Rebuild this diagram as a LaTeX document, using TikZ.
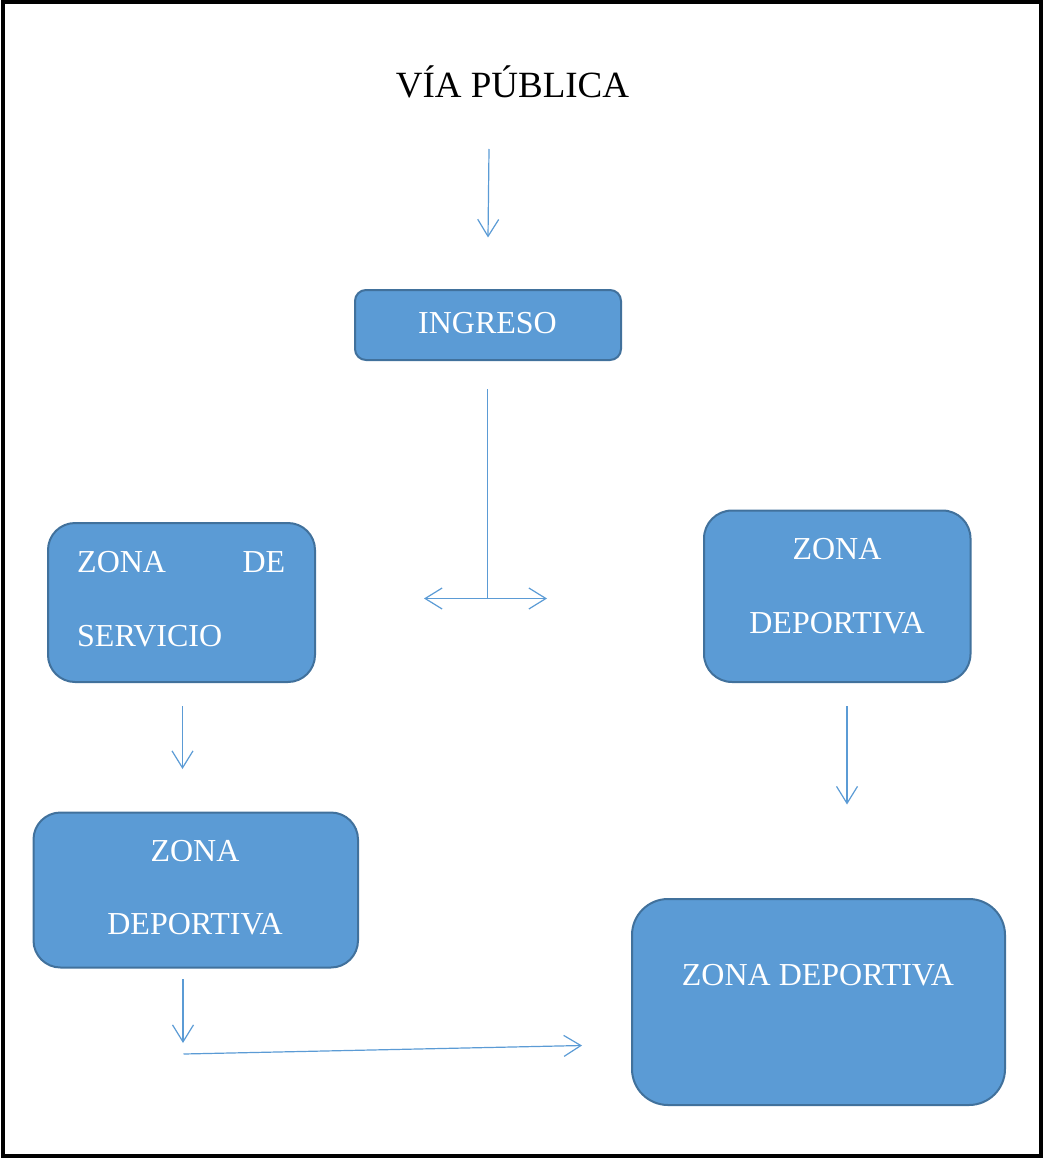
\documentclass[tikz,border=0pt]{standalone}
\usepackage{fontspec}
\setmainfont{Liberation Serif}
\usetikzlibrary{arrows.meta}
\definecolor{boxfill}{HTML}{5B9BD5}
\definecolor{boxline}{HTML}{41719C}
\definecolor{arrowc}{HTML}{5B9BD5}
\begin{document}
\begin{tikzpicture}[x=1pt,y=-1pt,
  zbox/.style={draw=boxline, fill=boxfill, line width=2pt, inner sep=0pt, rounded corners=#1},
  zbox/.default=27pt,
  ztext/.style={text=white, inner sep=0pt, font=\fontsize{32}{38}\selectfont},
  arr/.style={draw=arrowc, line width=1.2pt, -{Straight Barb[length=17pt,width=21pt]}},
  line/.style={draw=arrowc, line width=1.2pt}]
\useasboundingbox (0,0) rectangle (1043,1158);
\draw[line width=4pt] (2.5,2.5) rectangle (1040.5,1155.5);

% title
\node[inner sep=0pt, anchor=base, font=\fontsize{37}{44}\selectfont] (via) at (512.5,98) {VÍA PÚBLICA};

% boxes
\node[zbox=11pt, minimum width=266pt, minimum height=70pt] (ingreso) at (488,325) {};
\node[zbox=27pt, minimum width=267pt, minimum height=159pt] (zds) at (181.5,602.5) {};
\node[zbox=28pt, minimum width=266.5pt, minimum height=171.5pt] (zdr) at (837.25,596.25) {};
\node[zbox=27pt, minimum width=324.5pt, minimum height=155pt] (zdl) at (195.75,890) {};
\node[zbox=36pt, minimum width=373pt, minimum height=206pt] (zdb) at (818.5,1002) {};

% texts
\node[ztext, anchor=base] (tingreso) at (487.5,333) {INGRESO};
\node[ztext, anchor=base west] (tzds1) at (77,572.5) {\makebox[208pt][s]{ZONA DE}};
\node[ztext, anchor=base west] (tzds2) at (77,646.5) {SERVICIO};
\node[ztext, anchor=base] (tzdr1) at (837,559) {ZONA};
\node[ztext, anchor=base] (tzdr2) at (837,633) {DEPORTIVA};
\node[ztext, anchor=base] (tzdl1) at (195,861) {ZONA};
\node[ztext, anchor=base] (tzdl2) at (195,934) {DEPORTIVA};
\node[ztext, anchor=base] (tzdb) at (818,985) {ZONA DEPORTIVA};

% connector ends
\coordinate (a1s) at (489,149);
\coordinate (a1e) at (488,237.5);
\coordinate (a2s) at (487.5,389);
\coordinate (a2m) at (487.5,598.5);
\coordinate (a2l) at (424,598.5);
\coordinate (a2r) at (547,598.5);
\coordinate (a3s) at (182.5,706);
\coordinate (a3e) at (182.5,769);
\coordinate (a4s) at (847,706);
\coordinate (a4e) at (847,804.5);
\coordinate (a5s) at (183,979);
\coordinate (a5e) at (183,1043);
\coordinate (a6s) at (183.5,1054);
\coordinate (a6e) at (582,1045.5);

% connectors
\draw[arr] (a1s) -- (a1e);
\draw[line] (a2s) -- (a2m);
\draw[arr] (a2m) -- (a2l);
\draw[arr] (a2m) -- (a2r);
\draw[arr] (a3s) -- (a3e);
\draw[arr] (a4s) -- (a4e);
\draw[arr] (a5s) -- (a5e);
\draw[arr] (a6s) -- (a6e);
\end{tikzpicture}
\end{document}
